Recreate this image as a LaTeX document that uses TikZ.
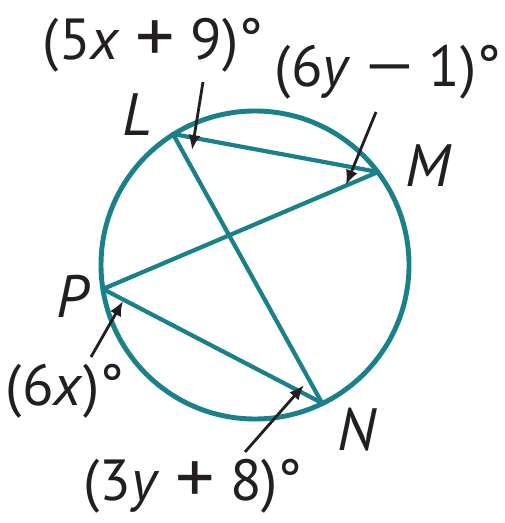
\documentclass[tikz,border=0pt]{standalone}
\usepackage{graphicx}
\usepackage{fontspec}
\setmainfont{PT Sans}
\usetikzlibrary{arrows.meta}
\definecolor{chordcol}{RGB}{26,128,138}
\definecolor{inkcol}{RGB}{35,31,32}
\newcommand{\opplus}{\raisebox{-0.06em}{\scalebox{1.35}[1.3]{+}}}
\newcommand{\opminus}{\scalebox{1.6}[1]{−}}

\begin{document}
\begin{tikzpicture}[
  x=0.02cm, y=-0.02cm,
  every node/.style={font=\fontsize{33}{40}\selectfont, text=inkcol, inner sep=0pt},
  %% circle outline
  rim/.style={draw=chordcol, line width=2.8pt},
  %% chords between the four points
  chord/.style={draw=chordcol, line width=2.4pt, line cap=round},
  %% black pointers into the inscribed angles
  ptr/.style={-{Latex[length=8.5pt,width=7pt]}, line width=1.6pt, draw=inkcol},
  %% vertex letters
  vlab/.style={font=\fontsize{34}{40}\selectfont\itshape},
]
\useasboundingbox (0,0) rectangle (504,523);

%%── Circle ───────────────────────────────────────────────────────────────────
\coordinate (O) at (255,265);
\draw[rim] (O) circle[radius=154];

%%── Points on the circle ─────────────────────────────────────────────────────
\coordinate (L) at (173,134);
\coordinate (M) at (378,172);
\coordinate (P) at (103,289);
\coordinate (N) at (322,403);

%%── Chords ───────────────────────────────────────────────────────────────────
\foreach \s/\t in {L/M, L/N, M/P, P/N}
  \draw[chord] (\s) -- (\t);

%%── Vertex letters ───────────────────────────────────────────────────────────
\node[vlab] (labL) at (137,115) {L};
\node[vlab] (labM) at (428,166) {M};
\node[vlab] (labP) at (72,296) {P};
\node[vlab] (labN) at (357,430) {N};

%%── Angle measures ───────────────────────────────────────────────────────────
\node (angL) at (153,45)  {(5\textit{x} \opplus{} 9)°};
\node (angM) at (388,72)  {(6\textit{y} \opminus{} 1)°};
\node (angP) at (65,391)  {(6\textit{x})°};
\node (angN) at (193,486) {(3\textit{y} \opplus{} 8)°};

%%── Pointer ends ─────────────────────────────────────────────────────────────
\coordinate (tailL) at (203,82);  \coordinate (tipL) at (192,150);
\coordinate (tailM) at (376,112); \coordinate (tipM) at (346,185);
\coordinate (tailP) at (91,357);  \coordinate (tipP) at (123,301);
\coordinate (tailN) at (245,452); \coordinate (tipN) at (304,385);

\foreach \v in {L,M,P,N}
  \draw[ptr] (tail\v) -- (tip\v);

\end{tikzpicture}
\end{document}
